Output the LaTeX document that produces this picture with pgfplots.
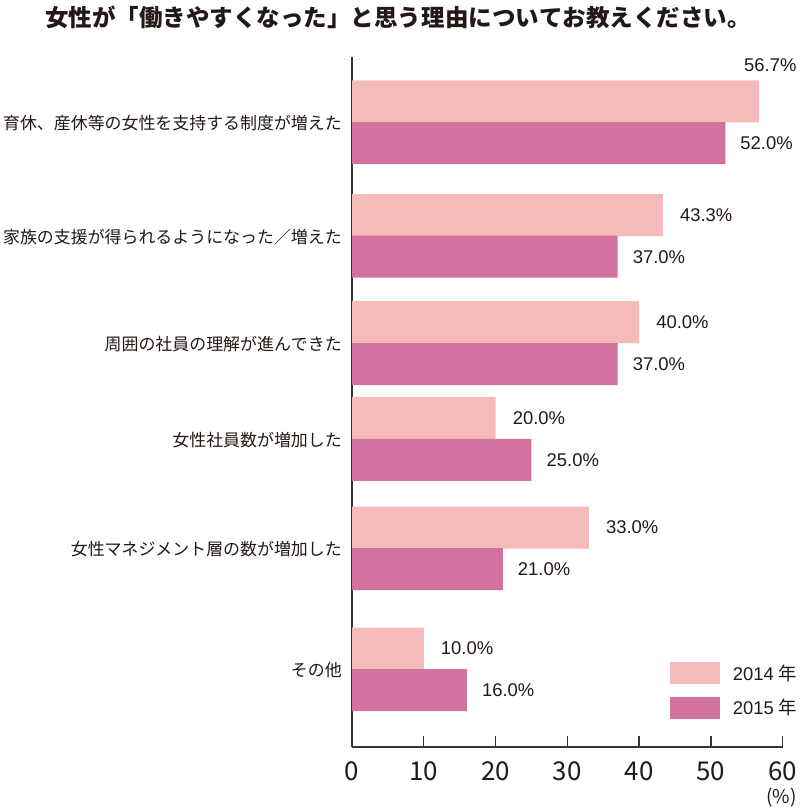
\documentclass[border=0pt]{standalone}
\usepackage{fontspec}
\setmainfont{Noto Sans CJK JP}[Kerning=Off]
\newfontfamily\numfont{Liberation Sans}
\usepackage{pgfplots}
\pgfplotsset{compat=1.18}
\definecolor{c14}{HTML}{F5BBB8}
\definecolor{c15}{HTML}{D1739E}
\definecolor{txt}{HTML}{231815}
\definecolor{axc}{HTML}{3E3533}
\begin{document}
\begin{tikzpicture}[x=1bp,y=1bp]
\path[use as bounding box] (0,0) rectangle (800,-809);
\node[font=\fontsize{23.6}{23.6}\selectfont\bfseries, text=txt] at (398,-17) {女性が「働きやすくなった」と思う理由についてお教えください。};
\begin{axis}[
  at={(352bp,-746.7bp)}, anchor=south west,
  scale only axis, width=430.7bp, height=689.7bp,
  xmin=0, xmax=60, ymin=-746.7, ymax=-57,
  axis x line*=bottom, axis y line*=left,
  axis line style={axc, line width=1.8bp, -},
  xtick={0,10,...,60}, tick align=inside, major tick length=11bp,
  xtick style={axc, line width=1.3bp},
  /pgf/number format/assume math mode=true,
  xticklabel style={font=\fontsize{26}{26}\selectfont, text=txt, anchor=base, yshift=-34bp, inner sep=0pt},
  ytick={-122,-235.7,-343,-439,-548.3,-669.3},
  yticklabels={育休、産休等の女性を支持する制度が増えた, 家族の支援が得られるようになった／増えた, 周囲の社員の理解が進んできた, 女性社員数が増加した, 女性マネジメント層の数が増加した, その他},
  ytick style={draw=none},
  yticklabel style={font=\fontsize{17}{17}\selectfont, text=txt, anchor=east, inner sep=0pt, xshift=-10bp, yshift=-1bp},
  legend image code/.code={\fill[#1] (0bp,-11bp) rectangle (50bp,11bp);},
  legend style={at={(0.7383,0.1228)}, anchor=north west, draw=none, fill=none, inner sep=0pt, outer sep=0pt, row sep=12.5bp,
    nodes={inner sep=0pt, minimum height=22bp, text=txt, font=\fontsize{18.5}{18.5}\selectfont},
    /tikz/every even column/.append style={column sep=0bp}},
  legend cell align=left,
  every node near coord/.append style={font=\numfont\fontsize{18.5}{18.5}\selectfont, text=txt, inner sep=0pt},
]
\addplot[xbar, bar width=42, bar shift=0pt, fill=c14, draw=none,
  point meta=explicit symbolic, nodes near coords,
  every node near coord/.append style={anchor=west, xshift=17bp}]
  coordinates {(56.7,-101.35)[] (43.3,-215)[43.3\%] (40.0,-322)[40.0\%] (20.0,-418)[20.0\%] (33.0,-527.5)[33.0\%] (10.0,-648.5)[10.0\%]};
\addlegendentry{\hspace{13bp}{\numfont 2014} 年}
\addplot[xbar, bar width=42, bar shift=0pt, fill=c15, draw=none,
  point meta=explicit symbolic, nodes near coords,
  every node near coord/.append style={anchor=west, xshift=15bp}]
  coordinates {(52.0,-143)[52.0\%] (37.0,-256.7)[37.0\%] (37.0,-364)[37.0\%] (25.0,-459.85)[25.0\%] (21.0,-569.15)[21.0\%] (16.0,-690.15)[16.0\%]};
\addlegendentry{\hspace{13bp}{\numfont 2015} 年}
\addplot[forget plot, draw=none, mark=none, point meta=explicit symbolic, nodes near coords,
  every node near coord/.append style={anchor=west, xshift=-15bp}]
  coordinates {(56.7,-65)[56.7\%]};
\end{axis}
\node[font=\fontsize{19}{19}\selectfont, text=txt, anchor=east, inner sep=0pt] at (797,-798) {(\%)};
\end{tikzpicture}
\end{document}
